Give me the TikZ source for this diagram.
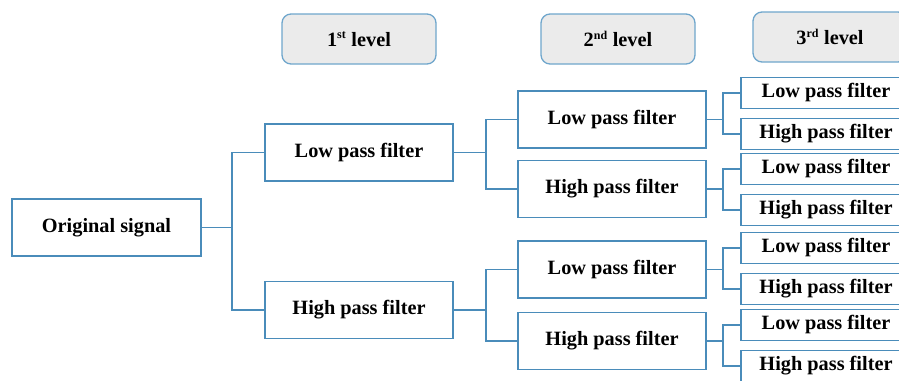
\documentclass[tikz,border=0pt]{standalone}
\usepackage{fontspec}
\setmainfont{Liberation Serif}
\definecolor{lineblue}{HTML}{4A8CBA}
\definecolor{hdrblue}{HTML}{6FA6CC}
\definecolor{hdrfill}{HTML}{EBEBEB}
\tikzset{
  box/.style={draw=lineblue, line width=1.5pt, fill=white, inner sep=0pt, align=center, font=\fontsize{20.3}{24}\selectfont\bfseries},
  bigbox/.style={box, minimum width=188pt, minimum height=57pt},
  smallbox/.style={box, minimum width=170pt, minimum height=31pt},
  hdr/.style={draw=hdrblue, line width=1.3pt, fill=hdrfill, rounded corners=9pt, minimum width=154pt, minimum height=50pt, inner sep=0pt, font=\fontsize{20.3}{24}\selectfont\bfseries},
  conn/.style={draw=lineblue, line width=1.5pt}
}
\begin{document}
\begin{tikzpicture}[x=1pt,y=-1pt]
\useasboundingbox (0,0) rectangle (899,380);
% headers
\node[hdr] (h1) at (359,39) {1\textsuperscript{\fontsize{12}{14}\selectfont st} level};
\node[hdr] (h2) at (618,39) {2\textsuperscript{\fontsize{12}{14}\selectfont nd} level};
\node[hdr] (h3) at (830,37) {3\textsuperscript{\fontsize{12}{14}\selectfont rd} level};
% level 0
\node[bigbox, minimum width=189pt] (orig) at (106.5,227.5) {Original signal};
% level 1
\node[bigbox] (l1a) at (359,152.5) {Low pass filter};
\node[bigbox] (l1b) at (359,310) {High pass filter};
% level 2
\node[bigbox] (l2a) at (612,119.5) {Low pass filter};
\node[bigbox] (l2b) at (612,189) {High pass filter};
\node[bigbox] (l2c) at (612,269.5) {Low pass filter};
\node[bigbox] (l2d) at (612,341) {High pass filter};
% level 3
\node[smallbox] (l3a) at (826,93) {Low pass filter};
\node[smallbox] (l3b) at (826,134) {High pass filter};
\node[smallbox] (l3c) at (826,169) {Low pass filter};
\node[smallbox] (l3d) at (826,210) {High pass filter};
\node[smallbox] (l3e) at (826,248) {Low pass filter};
\node[smallbox] (l3f) at (826,289) {High pass filter};
\node[smallbox] (l3g) at (826,325) {Low pass filter};
\node[smallbox] (l3h) at (826,366) {High pass filter};
% junctions
\coordinate (j0) at (232,227.5);
\coordinate (j1) at (486,152.5);
\coordinate (j2) at (486,310);
\coordinate (j3) at (723,119.5);
\coordinate (j4) at (723,189);
\coordinate (j5) at (723,269.5);
\coordinate (j6) at (723,341);
% connectors
\draw[conn] (orig.east) -- (j0);
\draw[conn] (j0) |- (l1a.west);
\draw[conn] (j0) |- (l1b.west);
\draw[conn] (l1a.east) -- (j1);
\draw[conn] (j1) |- (l2a.west);
\draw[conn] (j1) |- (l2b.west);
\draw[conn] (l1b.east) -- (j2);
\draw[conn] (j2) |- (l2c.west);
\draw[conn] (j2) |- (l2d.west);
\draw[conn] (l2a.east) -- (j3);
\draw[conn] (j3) |- (l3a.west);
\draw[conn] (j3) |- (l3b.west);
\draw[conn] (l2b.east) -- (j4);
\draw[conn] (j4) |- (l3c.west);
\draw[conn] (j4) |- (l3d.west);
\draw[conn] (l2c.east) -- (j5);
\draw[conn] (j5) |- (l3e.west);
\draw[conn] (j5) |- (l3f.west);
\draw[conn] (l2d.east) -- (j6);
\draw[conn] (j6) |- (l3g.west);
\draw[conn] (j6) |- (l3h.west);
\end{tikzpicture}
\end{document}
